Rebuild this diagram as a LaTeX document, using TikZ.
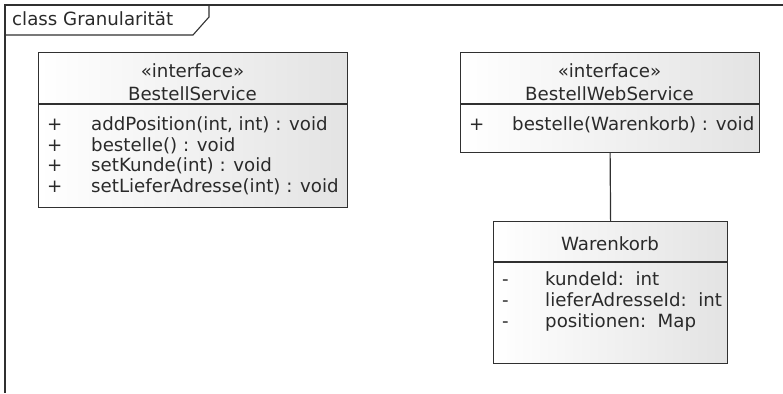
\documentclass[tikz,border=0pt]{standalone}
\usepackage{fontspec}
\setmainfont{DejaVu Sans}
\definecolor{ink}{HTML}{2A2A2A}
\definecolor{edge}{HTML}{303030}
\begin{document}
\begin{tikzpicture}[x=1pt,y=-1pt,
  txt/.style={font=\fontsize{18.2}{21}\selectfont, text=ink, inner sep=0pt},
  umlbox/.style={draw=edge, line width=1.2pt, rectangle, inner sep=0pt, anchor=north west,
     left color=white, middle color=white, right color=black!11},
  divider/.style={draw=edge, line width=1.2pt},
  framel/.style={draw=edge, line width=1.1pt}]
\useasboundingbox (0,0) rectangle (783,393);
% frame
\draw[framel] (783,5) -- (5,5) -- (5,393);
\draw[framel] (5,35) -- (193,35) -- (209,17) -- (209,5);
\node[txt, anchor=base west] (title) at (12,26) {class Granularität};

% BestellService
\node[umlbox, minimum width=309pt, minimum height=155pt] (b1) at (38,52) {};
\draw[divider] (38,104) -- (347,104);
\node[txt, anchor=base] (b1s) at (192.5,78) {«interface»};
\node[txt, anchor=base] (b1n) at (192.5,100.5) {BestellService};
\node[txt, anchor=base west] (p1) at (47,130.5) {+};
\node[txt, anchor=base west] (m1) at (91,130.5) {addPosition(int, int) : void};
\node[txt, anchor=base west] (p2) at (47,151) {+};
\node[txt, anchor=base west] (m2) at (91,151) {bestelle() : void};
\node[txt, anchor=base west] (p3) at (47,171.5) {+};
\node[txt, anchor=base west] (m3) at (91,171.5) {setKunde(int) : void};
\node[txt, anchor=base west] (p4) at (47,192) {+};
\node[txt, anchor=base west] (m4) at (91,192) {setLieferAdresse(int) : void};

% BestellWebService
\node[umlbox, minimum width=299pt, minimum height=100pt] (b2) at (460,52) {};
\draw[divider] (460,104) -- (759,104);
\node[txt, anchor=base] (b2s) at (609.5,78) {«interface»};
\node[txt, anchor=base] (b2n) at (609.5,100.5) {BestellWebService};
\node[txt, anchor=base west] (b2p) at (469,130.5) {+};
\node[txt, anchor=base west] (b2m) at (512,130.5) {bestelle(Warenkorb) : void};

% Warenkorb
\node[umlbox, minimum width=234pt, minimum height=142pt] (b3) at (493,221) {};
\draw[divider] (493,262) -- (727,262);
\node[txt, anchor=base] (b3n) at (610,250.5) {Warenkorb};
\node[txt, anchor=base west] (d1) at (502,285.5) {-};
\node[txt, anchor=base west] (a1) at (545,285.5) {kundeId:\ \ int};
\node[txt, anchor=base west] (d2) at (502,306) {-};
\node[txt, anchor=base west] (a2) at (545,306) {lieferAdresseId:\ \ int};
\node[txt, anchor=base west] (d3) at (502,327) {-};
\node[txt, anchor=base west] (a3) at (545,327) {positionen:\ \ Map};

% association
\draw[edge, line width=1.2pt] (b2.south) -- (b3.north);
\end{tikzpicture}
\end{document}
